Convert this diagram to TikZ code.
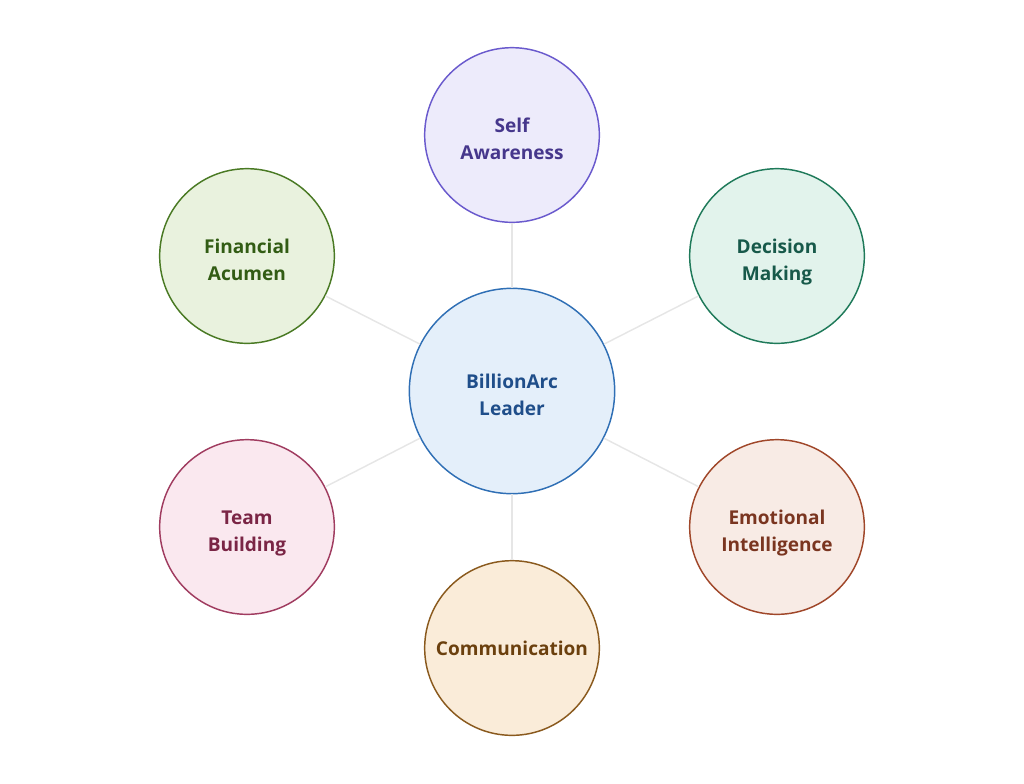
\documentclass[tikz,border=0pt]{standalone}
\usepackage{fontspec}
\setmainfont{Open Sans}
\usetikzlibrary{positioning}

\definecolor{hubfill}{HTML}{E4EFFA}
\definecolor{hubdraw}{HTML}{2F6FB5}
\definecolor{hubtext}{HTML}{1F4E8A}
\definecolor{selffill}{HTML}{EDEBFB}
\definecolor{selfdraw}{HTML}{6A5ACD}
\definecolor{selftext}{HTML}{46378C}
\definecolor{decfill}{HTML}{E2F3EC}
\definecolor{decdraw}{HTML}{1F7A5A}
\definecolor{dectext}{HTML}{17594A}
\definecolor{emofill}{HTML}{F8EBE5}
\definecolor{emodraw}{HTML}{A0472A}
\definecolor{emotext}{HTML}{7A3520}
\definecolor{comfill}{HTML}{FAECD9}
\definecolor{comdraw}{HTML}{8A5A1E}
\definecolor{comtext}{HTML}{6B400E}
\definecolor{teamfill}{HTML}{FAE8EF}
\definecolor{teamdraw}{HTML}{A03C60}
\definecolor{teamtext}{HTML}{7A2545}
\definecolor{finfill}{HTML}{E9F2DE}
\definecolor{findraw}{HTML}{4A7A24}
\definecolor{fintext}{HTML}{325C14}
\definecolor{spoke}{HTML}{E6E6E6}

\begin{document}
\begin{tikzpicture}[
    x=0.75pt, y=-0.75pt,
    hub/.style={circle, draw=hubdraw, fill=hubfill, text=hubtext, line width=1.1pt,
        minimum size=154pt, align=center, font=\fontsize{14.3}{20.3}\selectfont\bfseries},
    skill/.style={circle, line width=1.1pt, minimum size=131pt, align=center,
        font=\fontsize{14.3}{20.3}\selectfont\bfseries},
    twoline/.style={text height=37pt, text depth=0pt},
    link/.style={draw=spoke, line width=1.1pt}
]
\useasboundingbox (0,0) rectangle (1024,783);

% Mittelpunkt
\node[hub, twoline] (leader) at (512,391) {BillionArc\\Leader};

% Kompetenzen rundherum
\node[skill, twoline, draw=selfdraw, fill=selffill, text=selftext] (self) at (512,135) {Self\\Awareness};
\node[skill, twoline, draw=decdraw, fill=decfill, text=dectext] (decision) at (777,256) {Decision\\Making};
\node[skill, twoline, draw=emodraw, fill=emofill, text=emotext] (emotion) at (777,527) {Emotional\\Intelligence};
\node[skill, draw=comdraw, fill=comfill, text=comtext] (comm) at (512,648) {Communication};
\node[skill, twoline, draw=teamdraw, fill=teamfill, text=teamtext] (team) at (247,527) {Team\\Building};
\node[skill, twoline, draw=findraw, fill=finfill, text=fintext] (finance) at (247,256) {Financial\\Acumen};

% Verbindungen
\draw[link] (leader) -- (self);
\draw[link] (leader) -- (decision);
\draw[link] (leader) -- (emotion);
\draw[link] (leader) -- (comm);
\draw[link] (leader) -- (team);
\draw[link] (leader) -- (finance);

\end{tikzpicture}
\end{document}
